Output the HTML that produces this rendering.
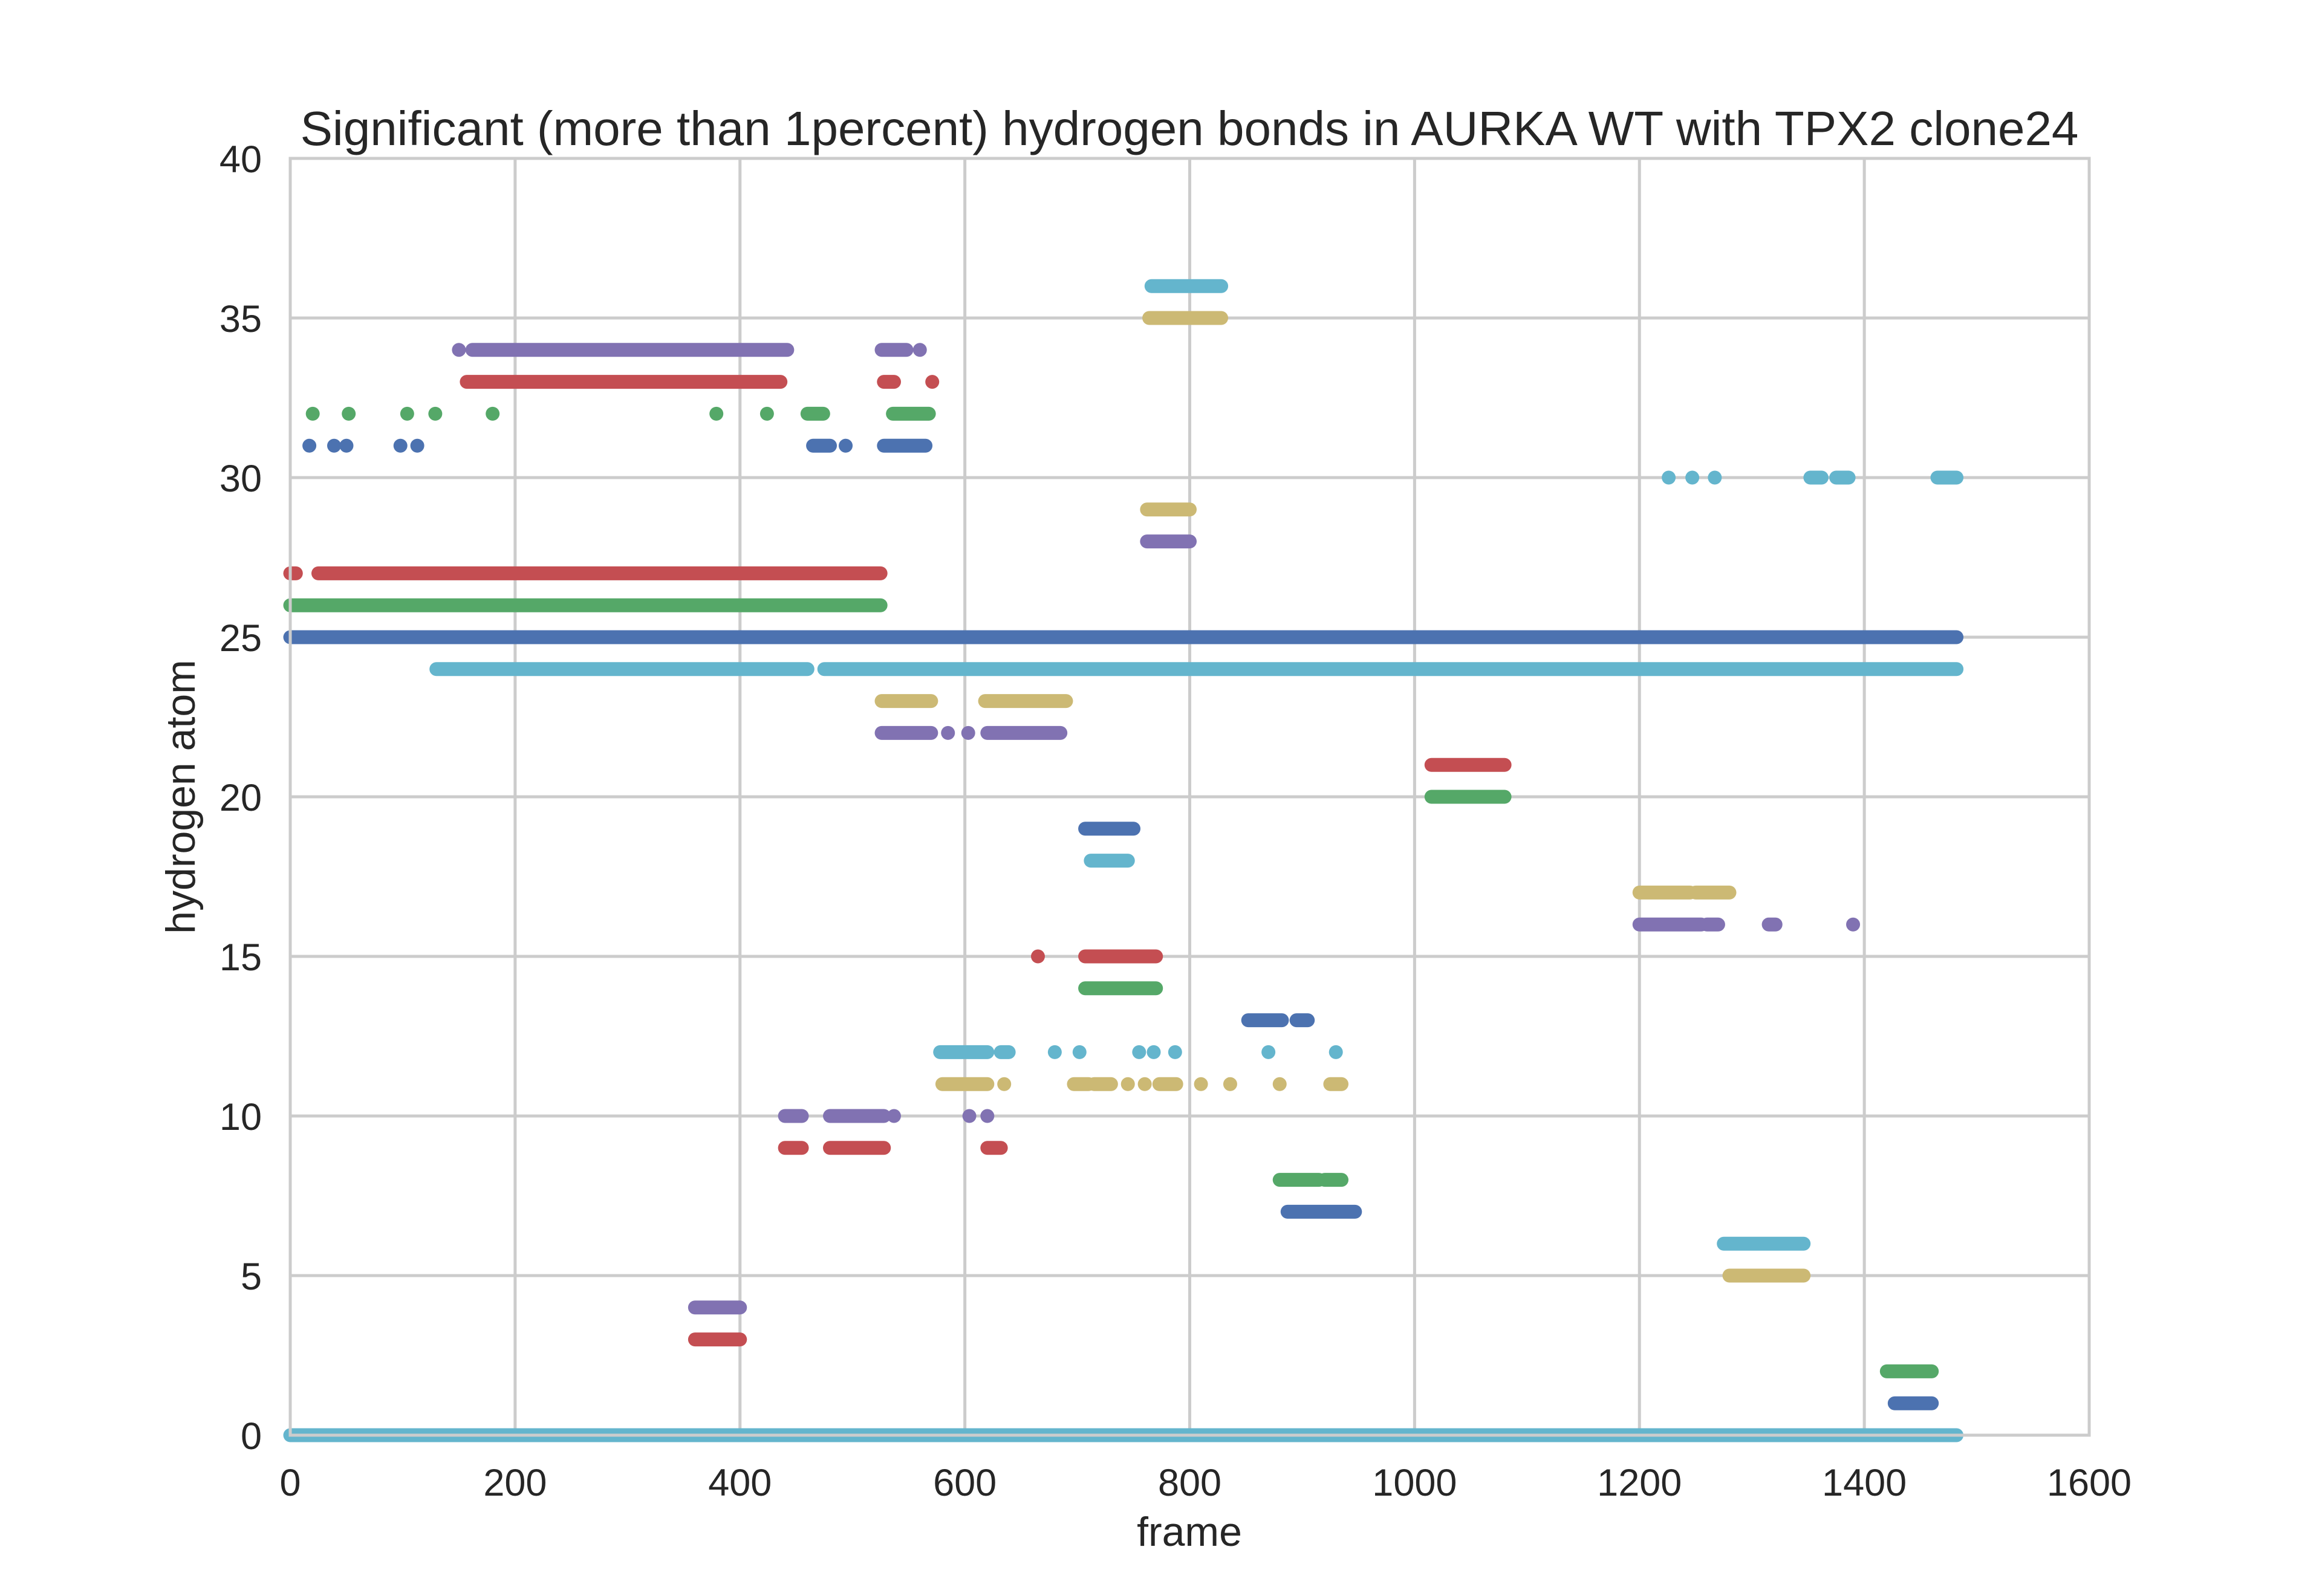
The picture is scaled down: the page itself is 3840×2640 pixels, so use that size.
<!DOCTYPE html>
<html><head><meta charset="utf-8"><style>
html,body{margin:0;padding:0;background:#fff;}
svg{display:block;}
text{font-family:"Liberation Sans",sans-serif;fill:#262626;}
</style></head>
<body>
<svg id="chart" width="3840" height="2640" viewBox="0 0 3840 2640" xmlns="http://www.w3.org/2000/svg">
<rect x="0" y="0" width="3840" height="2640" fill="#fff"/>
<g id="grid"></g>
<g id="marks"></g>
<rect x="480" y="262" width="2975" height="2112" fill="none" stroke="#cccccc" stroke-width="5"/>
<g id="ticks"></g>
<text x="1967" y="240" font-size="80" text-anchor="middle">Significant (more than 1percent) hydrogen bonds in AURKA WT with TPX2 clone24</text>
<text x="1967" y="2557" font-size="68" text-anchor="middle">frame</text>
<text x="0" y="0" font-size="68" text-anchor="middle" transform="translate(322,1318) rotate(-90)">hydrogen atom</text>
</svg>
<script>
const xTicks=[0,200,400,600,800,1000,1200,1400,1600];
const yTicks=[0,5,10,15,20,25,30,35,40];
const colBlue="#4C72B0",colGreen="#55A868",colRed="#C44E52",colPurple="#8172B2",colYellow="#CCB974",colCyan="#64B5CD";
// each series: y value, colour, runs [start,end] frames (single frames as [f,f])
const seriesY=[25,24,0,27,26,34,33,32,31,22,23,36,35,29,28,19,18,15,14,13,12,11,10,9,4,3,8,7,21,20,17,16,30,6,5,2,1];
const seriesColor=[colBlue,colCyan,colCyan,colRed,colGreen,colPurple,colRed,colGreen,colBlue,colPurple,colYellow,colCyan,colYellow,colYellow,colPurple,colBlue,colCyan,colRed,colGreen,colBlue,colCyan,colYellow,colPurple,colRed,colPurple,colRed,colGreen,colBlue,colRed,colGreen,colYellow,colPurple,colCyan,colCyan,colYellow,colGreen,colBlue];
const seriesRuns=[
[[0,1482]],
[[130,460],[475,1482]],
[[0,1482]],
[[0,5],[25,525]],
[[0,525]],
[[150,150],[162,442],[526,548],[560,560]],
[[157,436],[528,537],[571,571]],
[[20,20],[52,52],[104,104],[129,129],[180,180],[379,379],[424,424],[460,474],[536,568]],
[[17,17],[39,39],[50,50],[98,98],[113,113],[465,480],[494,494],[528,565]],
[[526,570],[585,585],[603,603],[620,685]],
[[526,570],[618,690]],
[[766,828]],
[[764,828]],
[[762,800]],
[[762,800]],
[[707,750]],
[[712,745]],
[[665,665],[707,770]],
[[707,770]],
[[852,882],[895,905]],
[[578,620],[632,639],[680,680],[702,702],[755,755],[768,768],[787,787],[870,870],[930,930]],
[[580,620],[635,635],[697,710],[715,730],[745,745],[760,760],[773,788],[810,810],[836,836],[880,880],[925,935]],
[[440,455],[480,528],[537,537],[604,604],[620,620]],
[[440,455],[480,528],[620,632]],
[[360,400]],
[[360,400]],
[[880,915],[920,935]],
[[887,947]],
[[1015,1080]],
[[1015,1080]],
[[1200,1245],[1250,1280]],
[[1200,1255],[1260,1270],[1315,1321],[1390,1390]],
[[1226,1226],[1247,1247],[1267,1267],[1352,1362],[1375,1386],[1465,1482]],
[[1275,1346]],
[[1280,1346]],
[[1420,1460]],
[[1427,1460]]
];
const L=480,R=3455,T=262,B=2374;
function xs(v){return L+(v-0)/1600*(R-L);}
function ys(v){return B-(v-0)/40*(B-T);}
const NS="http://www.w3.org/2000/svg";
const grid=document.getElementById('grid'),ticks=document.getElementById('ticks'),marks=document.getElementById('marks');
xTicks.forEach(t=>{
 const l=document.createElementNS(NS,'line');
 
 
 l.setAttribute('x1',xs(t));l.setAttribute('x2',xs(t));l.setAttribute('y1',T);l.setAttribute('y2',B);
 l.setAttribute('stroke','#cccccc');l.setAttribute('stroke-width','5');grid.appendChild(l);
 const tx=document.createElementNS(NS,'text');
 
 
 tx.setAttribute('x',xs(t));tx.setAttribute('y',2474);tx.setAttribute('font-size','63');tx.setAttribute('text-anchor','middle');
 tx.textContent=t;ticks.appendChild(tx);
});
yTicks.forEach(t=>{
 const l=document.createElementNS(NS,'line');
 
 
 l.setAttribute('x1',L);l.setAttribute('x2',R);l.setAttribute('y1',ys(t));l.setAttribute('y2',ys(t));
 l.setAttribute('stroke','#cccccc');l.setAttribute('stroke-width','5');grid.appendChild(l);
 const tx=document.createElementNS(NS,'text');
 
 
 tx.setAttribute('x',433);tx.setAttribute('y',ys(t)+23);tx.setAttribute('font-size','63');tx.setAttribute('text-anchor','end');
 tx.textContent=t;ticks.appendChild(tx);
});
const r=11.5;
seriesY.forEach((yv,i)=>{
 const g=document.createElementNS(NS,'g');
 
 
 seriesRuns[i].forEach(run=>{
  const x1=xs(run[0]),x2=xs(run[1]),y=ys(yv);
  const rc=document.createElementNS(NS,'rect');
  
  
  rc.setAttribute('x',x1-r);rc.setAttribute('y',y-r);rc.setAttribute('width',x2-x1+2*r);rc.setAttribute('height',2*r);
  rc.setAttribute('rx',r);rc.setAttribute('fill',seriesColor[i]);
  g.appendChild(rc);
 });
 marks.appendChild(g);
});
</script>
</body></html>
